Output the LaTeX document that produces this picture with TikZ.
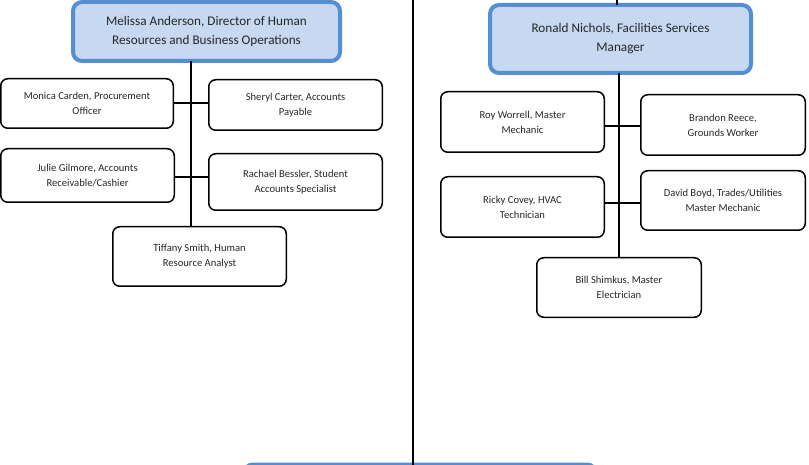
\documentclass[tikz,border=0pt]{standalone}
\usepackage{fontspec}
\setmainfont{Carlito}
\definecolor{mgrfill}{HTML}{C6D9F1}
\definecolor{mgrline}{HTML}{558ED5}

\begin{document}
\begin{tikzpicture}[x=1pt,y=-1pt,inner sep=0pt,outer sep=0pt,
    staff/.style={draw,line width=1.5pt,rounded corners=7pt,align=center,text=black!85,
      font=\fontsize{10.6}{15}\selectfont},
    mgr/.style={draw=mgrline,fill=mgrfill,line width=4pt,rounded corners=9pt,align=center,
      text=black!85,font=\fontsize{13.2}{19}\selectfont},
    link/.style={line width=1.5pt}]
  \useasboundingbox (0,0) rectangle (809,465);
  % 
  \node[mgr,minimum width=267pt,minimum height=59pt] (anderson) at (206.5,31.5)
    {Melissa Anderson, Director of Human\\Resources and Business Operations};
  \node[staff,minimum width=172.5pt,minimum height=49.5pt] (carden) at (87,103.5)
    {Monica Carden, Procurement\\Officer};
  \node[staff,minimum width=173.5pt,minimum height=50.5pt] (carter) at (295.5,105)
    {Sheryl Carter, Accounts\\Payable};
  \node[staff,minimum width=173.5pt,minimum height=53.5pt] (gilmore) at (87.5,175.5)
    {Julie Gilmore, Accounts\\Receivable/Cashier};
  \node[staff,minimum width=173.5pt,minimum height=56.5pt] (bessler) at (295.5,182)
    {Rachael Bessler, Student\\Accounts Specialist};
  \node[staff,minimum width=173.5pt,minimum height=59.5pt] (smith) at (199.5,256.5)
    {Tiffany Smith, Human\\Resource Analyst};
  % 
  \node[mgr,minimum width=261pt,minimum height=68pt] (nichols) at (620.5,39)
    {Ronald Nichols, Facilities Services\\Manager};
  \node[staff,minimum width=163.5pt,minimum height=60.5pt] (worrell) at (522.5,122)
    {Roy Worrell, Master\\Mechanic};
  \node[staff,minimum width=164.5pt,minimum height=60.5pt] (reece) at (723,125)
    {Brandon Reece,\\Grounds Worker};
  \node[staff,minimum width=163.5pt,minimum height=60.5pt] (covey) at (522.5,207)
    {Ricky Covey, HVAC\\Technician};
  \node[staff,minimum width=164.5pt,minimum height=59.5pt] (boyd) at (723,200.5)
    {David Boyd, Trades/Utilities\\Master Mechanic};
  \node[staff,minimum width=164.5pt,minimum height=59.5pt] (shimkus) at (619,287.5)
    {Bill Shimkus, Master\\Electrician};
  % 
  \node[mgr,minimum width=352pt,minimum height=60pt,anchor=north] (exec) at (420,464.5) {};
  \coordinate (trunktop) at (413,0);
  \coordinate (nicholstop) at (617,0);

  \draw[link] (trunktop) -- (trunktop |- exec.north);
  \draw[link] (nicholstop) -- (nicholstop |- nichols.north);
  \draw[link] ([xshift=-15.5pt]anderson.south) -- ([xshift=-8.5pt]smith.north);
  \draw[link] ([yshift=0.5pt]carden.east) -- ([yshift=0.5pt]carden.east -| carter.west);
  \draw[link] ([yshift=-1.5pt]gilmore.east) -- ([yshift=-1.5pt]gilmore.east -| bessler.west);
  \draw[link] (shimkus.north |- nichols.south) -- (shimkus.north);
  \draw[link] ([yshift=-4pt]worrell.east) -- ([yshift=-4pt]worrell.east -| reece.west);
  \draw[link] ([yshift=4pt]covey.east) -- ([yshift=4pt]covey.east -| boyd.west);
\end{tikzpicture}
\end{document}
